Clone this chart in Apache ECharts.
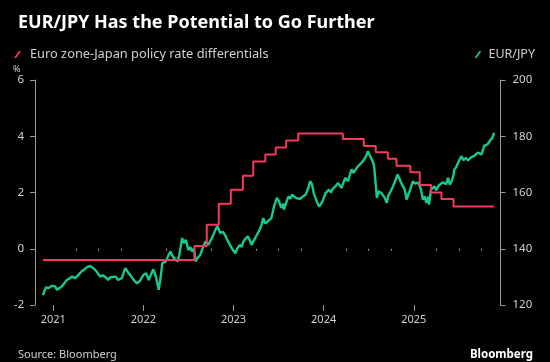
<!DOCTYPE html>
<html><head><meta charset="utf-8">
<script src="https://cdn.jsdelivr.net/npm/echarts@6/dist/echarts.min.js"></script>
<style>html,body{margin:0;padding:0;background:#000}#c{width:550px;height:362px}</style>
</head><body><div id="c"></div>
<script>
// Policy rate differential (%), step changes, x in decimal years
const rateTimes = [2020.886, 2022.567, 2022.703, 2022.836, 2022.970, 2023.104, 2023.219, 2023.353, 2023.468, 2023.584, 2023.718, 2024.213, 2024.445, 2024.578, 2024.712, 2024.808, 2024.962, 2025.066, 2025.192, 2025.307, 2025.441, 2025.890];
const rateValues = [-0.4, 0.1, 0.85, 1.6, 2.1, 2.6, 3.1, 3.35, 3.6, 3.85, 4.1, 3.9, 3.65, 3.43, 3.2, 2.95, 2.72, 2.27, 2.0, 1.77, 1.5, 1.5];

// EUR/JPY, x in decimal years
const fxTimes = [
 2020.886, 2020.90, 2020.92, 2020.95, 2020.98, 2021.00, 2021.02, 2021.04, 2021.07, 2021.10, 2021.12, 2021.15, 2021.18, 2021.21, 2021.24, 2021.26, 2021.28, 2021.31, 2021.34, 2021.37, 2021.39, 2021.41, 2021.43, 2021.45, 2021.48, 2021.50, 2021.52, 2021.55, 2021.58, 2021.61, 2021.63, 2021.65, 2021.69, 2021.72, 2021.74, 2021.76, 2021.78, 2021.80, 2021.83, 2021.85, 2021.87, 2021.90, 2021.93, 2021.96, 2022.00, 2022.03, 2022.06, 2022.08, 2022.11, 2022.14, 2022.17, 2022.19, 2022.21, 2022.23, 2022.25, 2022.28, 2022.30, 2022.32, 2022.34, 2022.36, 2022.38, 2022.40, 2022.43, 2022.45, 2022.47, 2022.48, 2022.50, 2022.52, 2022.54, 2022.56, 2022.58, 2022.60, 2022.63, 2022.65, 2022.67, 2022.69, 2022.71, 2022.72, 2022.74, 2022.76, 2022.78, 2022.80, 2022.82, 2022.84, 2022.85, 2022.88, 2022.90, 2022.93, 2022.96, 2022.98, 2023.00, 2023.02, 2023.04, 2023.07, 2023.09, 2023.11, 2023.13, 2023.16, 2023.18, 2023.20, 2023.22, 2023.25, 2023.27, 2023.29, 2023.31, 2023.33, 2023.35, 2023.38, 2023.40, 2023.42, 2023.45, 2023.48, 2023.50, 2023.52, 2023.53, 2023.55, 2023.56, 2023.58, 2023.61, 2023.63, 2023.65, 2023.67, 2023.69, 2023.71, 2023.74, 2023.77, 2023.80, 2023.83, 2023.85, 2023.87, 2023.89, 2023.91, 2023.93, 2023.95, 2023.97, 2023.99, 2024.02, 2024.04, 2024.06, 2024.08, 2024.10, 2024.12, 2024.14, 2024.16, 2024.18, 2024.20, 2024.22, 2024.24, 2024.27, 2024.29, 2024.31, 2024.33, 2024.34, 2024.36, 2024.38, 2024.40, 2024.42, 2024.44, 2024.46, 2024.48, 2024.49, 2024.51, 2024.53, 2024.55, 2024.56, 2024.58, 2024.59, 2024.61, 2024.62, 2024.64, 2024.66, 2024.68, 2024.70, 2024.72, 2024.74, 2024.77, 2024.79, 2024.82, 2024.84, 2024.86, 2024.88, 2024.90, 2024.92, 2024.93, 2024.96, 2024.99, 2025.01, 2025.03, 2025.05, 2025.07, 2025.08, 2025.10, 2025.12, 2025.14, 2025.16, 2025.17, 2025.19, 2025.21, 2025.23, 2025.25, 2025.27, 2025.28, 2025.30, 2025.32, 2025.34, 2025.36, 2025.38, 2025.40, 2025.42, 2025.44, 2025.45, 2025.47, 2025.49, 2025.51, 2025.53, 2025.55, 2025.56, 2025.58, 2025.60, 2025.62, 2025.64, 2025.65, 2025.67, 2025.69, 2025.71, 2025.73, 2025.75, 2025.77, 2025.78, 2025.80, 2025.82, 2025.84, 2025.86, 2025.875, 2025.89
];
const fxValues = [
 123.5, 124.8, 126.3, 126.0, 126.8, 126.3, 126.6, 125.4, 126.0, 126.8, 127.6, 128.9, 129.4, 130.1, 129.5, 130.2, 130.7, 131.8, 132.5, 133.4, 132.8, 133.9, 133.4, 133.0, 131.9, 131.2, 130.1, 130.6, 129.9, 128.9, 129.8, 129.5, 130.1, 128.9, 129.6, 129.5, 131.4, 133.1, 131.6, 130.8, 129.9, 128.6, 127.7, 128.5, 130.7, 131.3, 128.9, 130.5, 132.7, 130.0, 125.4, 129.5, 134.9, 134.2, 135.5, 137.8, 139.0, 137.6, 136.7, 137.4, 135.5, 138.0, 143.8, 142.0, 143.2, 143.8, 139.6, 140.6, 139.0, 140.0, 135.5, 136.7, 137.8, 139.5, 141.2, 142.6, 143.0, 141.4, 142.6, 143.8, 145.2, 146.8, 148.0, 146.6, 145.6, 146.0, 145.2, 143.2, 141.4, 140.2, 139.6, 138.4, 140.0, 141.4, 140.6, 142.6, 143.5, 144.4, 143.0, 141.4, 140.8, 144.4, 145.6, 146.8, 148.4, 150.9, 149.0, 149.7, 150.4, 150.9, 155.1, 158.1, 157.2, 157.5, 154.5, 156.0, 153.9, 156.0, 158.6, 157.8, 159.2, 158.6, 158.1, 157.4, 157.7, 158.6, 159.2, 161.6, 164.0, 163.0, 159.8, 158.0, 156.3, 155.0, 155.7, 157.0, 159.8, 160.4, 161.0, 160.0, 161.2, 161.6, 162.6, 163.4, 162.4, 161.6, 163.6, 165.2, 164.0, 166.2, 168.2, 167.0, 167.5, 168.4, 169.3, 169.8, 170.5, 171.4, 172.3, 173.6, 174.7, 175.3, 172.0, 170.6, 169.3, 162.2, 158.1, 160.4, 161.0, 159.8, 159.2, 158.0, 156.3, 159.0, 160.2, 162.2, 163.8, 166.4, 165.0, 163.4, 164.0, 161.0, 157.5, 157.0, 161.0, 164.0, 163.2, 162.8, 163.5, 162.0, 161.0, 157.5, 158.6, 156.3, 158.5, 155.7, 161.0, 161.6, 162.2, 160.8, 161.5, 162.6, 162.8, 163.6, 164.0, 163.0, 165.2, 162.8, 164.0, 166.0, 168.2, 169.0, 170.5, 171.8, 172.9, 171.5, 172.0, 172.3, 171.4, 171.8, 172.6, 172.3, 173.0, 173.5, 174.2, 174.7, 173.5, 175.4, 176.5, 175.8, 177.2, 178.2, 177.5, 179.6, 181.2
];

const yearTicks = [2021, 2022, 2023, 2024, 2025];
const quarterTicks = [2021.25, 2021.5, 2021.75, 2022.25, 2022.5, 2022.75, 2023.25, 2023.5, 2023.75, 2024.25, 2024.5, 2024.75, 2025.25, 2025.5, 2025.75];

const FONT = 'Noto Sans';
const TXT = '#d0d0d0';
const AX = '#9a9a9a';
const RED = '#f43a5c';
const GREEN = '#17c98c';

const chart = echarts.init(document.getElementById('c'), null, {renderer: 'canvas'});
const slash = 'path://M0,10 L3,10 L10,0 L7,0 Z';

chart.setOption({
  backgroundColor: '#000',
  animation: false,
  textStyle: {fontFamily: FONT},
  title: [
    {text: 'EUR/JPY Has the Potential to Go Further', left: 13, top: 9,
     textStyle: {color: '#fff', fontSize: 18, fontWeight: 'bold', fontFamily: FONT}},
    {text: 'Source: Bloomberg', left: 13, top: 344,
     textStyle: {color: TXT, fontSize: 11, fontWeight: 'normal', fontFamily: FONT}},
    {text: 'Bloomberg', right: 12, top: 344,
     textStyle: {color: '#fff', fontSize: 11.5, fontWeight: 'bold', fontFamily: FONT}}
  ],
  legend: [
    {data: ['Euro zone-Japan policy rate differentials'], left: 9, top: 43, icon: slash,
     itemWidth: 7, itemHeight: 8, itemGap: 6,
     textStyle: {color: TXT, fontSize: 12.8, fontFamily: FONT, padding: [0, 0, 0, 4]}},
    {data: ['EUR/JPY'], right: 10, top: 43, icon: slash,
     itemWidth: 7, itemHeight: 8,
     textStyle: {color: TXT, fontSize: 12.5, fontFamily: FONT, padding: [0, 0, 0, 2]}}
  ],
  grid: {left: 43, right: 56, top: 80, bottom: 57},
  xAxis: [
    {type: 'value', min: 2020.886, max: 2025.89,
     axisLine: {show: false},
     axisTick: {show: true, customValues: quarterTicks, length: 2, lineStyle: {color: AX}},
     axisLabel: {show: true, customValues: yearTicks, color: TXT, fontSize: 11, margin: 9,
                 formatter: v => String(Math.round(v))},
     splitLine: {show: false}},
    {type: 'value', min: 2020.886, max: 2025.89, position: 'bottom',
     axisLine: {show: false},
     axisTick: {show: true, customValues: yearTicks, length: 6, lineStyle: {color: AX}},
     axisLabel: {show: false}, splitLine: {show: false}}
  ],
  yAxis: [
    {type: 'value', min: -2, max: 6, interval: 2, position: 'left', offset: 8,
     name: '%', nameLocation: 'end', nameGap: 6,
     nameTextStyle: {color: TXT, fontSize: 9, align: 'left', padding: [0, 0, 0, -22]},
     axisLine: {show: true, lineStyle: {color: AX, width: 1}},
     axisTick: {show: true, length: 5, lineStyle: {color: AX}},
     axisLabel: {color: TXT, fontSize: 11.5, margin: 11},
     splitLine: {show: false}},
    {type: 'value', min: 120, max: 200, interval: 20, position: 'right', offset: 6.5,
     axisLine: {show: true, lineStyle: {color: AX, width: 1}},
     axisTick: {show: true, length: 5, lineStyle: {color: AX}},
     axisLabel: {color: TXT, fontSize: 11.5, margin: 12},
     splitLine: {show: false}}
  ],
  series: [
    {name: 'Euro zone-Japan policy rate differentials', type: 'line', step: 'end',
     xAxisIndex: 0, yAxisIndex: 0, showSymbol: false, symbol: 'none',
     color: RED, lineStyle: {color: RED, width: 2},
     data: rateTimes.map((t, i) => [t, rateValues[i]]), z: 3},
    {name: 'EUR/JPY', type: 'line', xAxisIndex: 0, yAxisIndex: 1, showSymbol: false, symbol: 'none',
     color: GREEN, lineStyle: {color: GREEN, width: 2.4},
     data: fxTimes.map((t, i) => [t, fxValues[i]]), z: 2}
  ]
});
</script></body></html>
